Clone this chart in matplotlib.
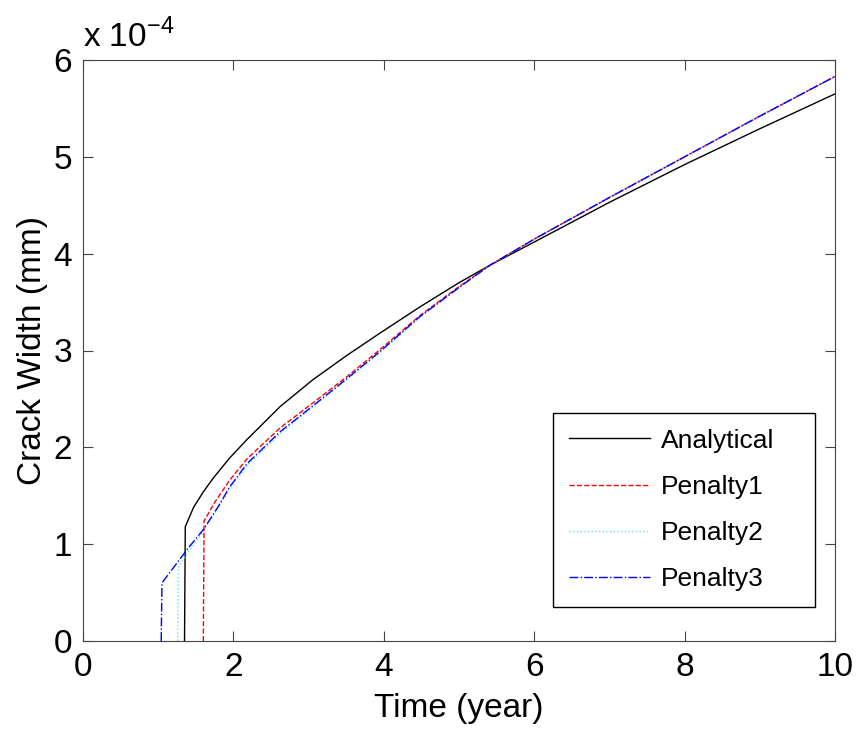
import matplotlib.pyplot as plt

plt.rcParams['font.family'] = ['Liberation Sans', 'DejaVu Sans']

# Curvas (tempo em anos, largura em 1e-4 mm)
t_anal = [1.35, 1.36, 1.47, 1.6, 1.73, 1.95, 2.18, 2.62, 3.06, 3.51, 3.95, 4.48, 5.0, 5.41,
          6.0, 7.0, 8.0, 9.0, 10.0]
w_anal = [0.0, 1.18, 1.38, 1.54, 1.68, 1.89, 2.08, 2.42, 2.70, 2.95, 3.18, 3.45, 3.70, 3.88,
          4.12, 4.53, 4.92, 5.29, 5.65]

t_pen1 = [1.6, 1.61, 1.75, 1.95, 2.18, 2.62, 3.06, 3.51, 3.95, 4.48, 5.0, 5.41, 6.0, 7.0,
          8.0, 9.0, 10.0]
w_pen1 = [0.0, 1.24, 1.43, 1.66, 1.88, 2.20, 2.46, 2.73, 3.01, 3.36, 3.66, 3.88, 4.15, 4.58,
          5.0, 5.42, 5.83]

t_pen2 = [1.26, 1.27, 1.6, 1.8, 1.95, 2.18, 2.62, 3.06, 3.51, 3.95, 4.48, 5.0, 5.41, 6.0, 7.0,
          8.0, 9.0, 10.0]
w_pen2 = [0.0, 0.78, 1.13, 1.38, 1.57, 1.81, 2.14, 2.42, 2.70, 2.98, 3.34, 3.65, 3.88, 4.15,
          4.58, 5.0, 5.42, 5.83]

t_pen3 = [1.04, 1.05, 1.4, 1.6, 1.8, 1.95, 2.18, 2.62, 3.06, 3.51, 3.95, 4.48, 5.0, 5.41, 6.0,
          7.0, 8.0, 9.0, 10.0]
w_pen3 = [0.0, 0.6, 0.96, 1.15, 1.39, 1.59, 1.83, 2.16, 2.43, 2.71, 2.99, 3.35, 3.65, 3.88,
          4.15, 4.58, 5.0, 5.42, 5.83]

fig = plt.figure(figsize=(8.61, 7.38), dpi=100)
ax = fig.add_axes([83 / 861, 1 - 641 / 738, 752 / 861, 581 / 738])

ax.plot(t_anal, [v * 1e-4 for v in w_anal], color='black', lw=1.0, label='Analytical')
ax.plot(t_pen1, [v * 1e-4 for v in w_pen1], color='red', lw=1.0, ls='--', label='Penalty1')
ax.plot(t_pen2, [v * 1e-4 for v in w_pen2], color='#66e0f0', lw=1.0, ls=':', label='Penalty2')
ax.plot(t_pen3, [v * 1e-4 for v in w_pen3], color='blue', lw=1.0, ls='-.', label='Penalty3')

ax.set_xlim(0, 10)
ax.set_ylim(0, 6e-4)
ax.set_xticks([0, 2, 4, 6, 8, 10])
ax.set_yticks([i * 1e-4 for i in range(7)])
ax.set_yticklabels([str(i) for i in range(7)])
ax.tick_params(direction='in', length=7, labelsize=24, top=True, right=True,
               color='#444444', pad=8)
for s in ax.spines.values():
    s.set_color('#444444')

ax.set_xlabel('Time (year)', fontsize=24, labelpad=7)
ax.set_ylabel('Crack Width (mm)', fontsize=24, labelpad=4)
ax.text(0.0, 1.01, r'x 10$^{\mathregular{-4}}$', transform=ax.transAxes, fontsize=24,
        ha='left', va='bottom')

# Legenda com caixa fixa (largura maior que o texto, como no original)
leg = ax.legend(loc='lower left', mode='expand',
                bbox_to_anchor=(553 / 861, 1 - 607 / 738, 262 / 861, 199 / 738),
                bbox_transform=fig.transFigure, fontsize=19, fancybox=False,
                framealpha=1, edgecolor='black', handlelength=3.07, handletextpad=0.42,
                labelspacing=0.84, borderpad=0.6, borderaxespad=0)
leg.get_frame().set_linewidth(1.0)

fig.savefig('out.png', dpi=100)
